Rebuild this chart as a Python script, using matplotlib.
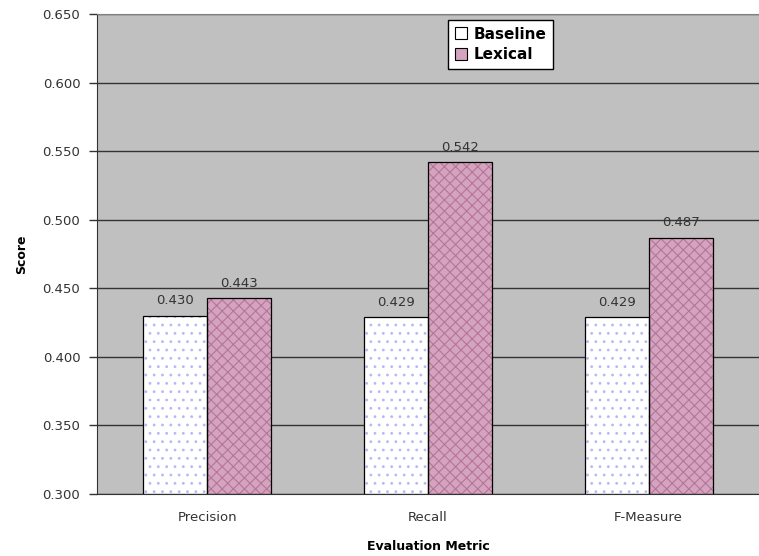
import matplotlib.pyplot as plt
import numpy as np

metrics = ['Precision', 'Recall', 'F-Measure']
baseline = [0.430, 0.429, 0.429]
lexical = [0.443, 0.542, 0.487]
series_names = ['Baseline', 'Lexical']
yticks = [0.300, 0.350, 0.400, 0.450, 0.500, 0.550, 0.600, 0.650]

plt.rcParams['hatch.linewidth'] = 0.8

fig = plt.figure(figsize=(7.59, 5.56), dpi=100)
ax = fig.add_axes([97/759, 62/556, 662/759, 480/556])
ax.set_facecolor('#c0c0c0')

x = np.arange(len(metrics))
w = 0.29
floor = 0.3

# base fills, then hatch overlays, then outlines
b1 = ax.bar(x - w/2, np.array(baseline) - floor, w, bottom=floor, color='white', zorder=2)
b2 = ax.bar(x + w/2, np.array(lexical) - floor, w, bottom=floor, color='#d4a3c0', zorder=2)
ax.bar(x - w/2, np.array(baseline) - floor, w, bottom=floor, color='none',
       edgecolor='#b8b8f4', hatch='..', linewidth=0, zorder=3)
ax.bar(x + w/2, np.array(lexical) - floor, w, bottom=floor, color='none',
       edgecolor='#b57596', hatch='xxx', linewidth=0, zorder=3)
ax.bar(x - w/2, np.array(baseline) - floor, w, bottom=floor, color='none',
       edgecolor='black', linewidth=0.9, zorder=4)
ax.bar(x + w/2, np.array(lexical) - floor, w, bottom=floor, color='none',
       edgecolor='black', linewidth=0.9, zorder=4)

for xi, v in zip(x - w/2, baseline):
    ax.text(xi, v + 0.006, f'{v:.3f}', ha='center', va='bottom', fontsize=9.5, color='#333333')
for xi, v in zip(x + w/2, lexical):
    ax.text(xi, v + 0.006, f'{v:.3f}', ha='center', va='bottom', fontsize=9.5, color='#333333')

ax.set_xlim(-0.5, 2.5)
ax.set_ylim(0.3, 0.65)
ax.set_yticks(yticks)
ax.set_yticklabels([f'{t:.3f}' for t in yticks], fontsize=9.5, color='#333333')
ax.set_xticks(x)
ax.set_xticklabels(metrics, fontsize=9.5, color='#333333')
ax.tick_params(axis='x', length=0, pad=12)
ax.tick_params(axis='y', length=6, width=1, color='#333333', pad=6)

ax.grid(axis='y', color='#333333', linewidth=1, zorder=1)
ax.set_axisbelow(True)

ax.spines['right'].set_visible(False)
ax.spines['top'].set_color('#808080')
ax.spines['left'].set_color('#333333')
ax.spines['bottom'].set_color('#333333')

ax.set_ylabel('Score', fontsize=9, fontweight='bold', labelpad=10)
ax.set_xlabel('Evaluation Metric', fontsize=9, fontweight='bold', labelpad=12)

leg = ax.legend([b1, b2], series_names, loc='upper center', bbox_to_anchor=(0.61, 0.988),
                borderaxespad=0, fontsize=11, frameon=True, fancybox=False,
                edgecolor='black', framealpha=1, facecolor='white',
                handlelength=0.8, handleheight=0.8, handletextpad=0.4,
                borderpad=0.45, labelspacing=0.35)
leg.get_frame().set_linewidth(1)
for t in leg.get_texts():
    t.set_fontweight('bold')
for h in leg.legend_handles:
    h.set_edgecolor('black')
    h.set_linewidth(0.8)

fig.savefig('out.png', dpi=100)
